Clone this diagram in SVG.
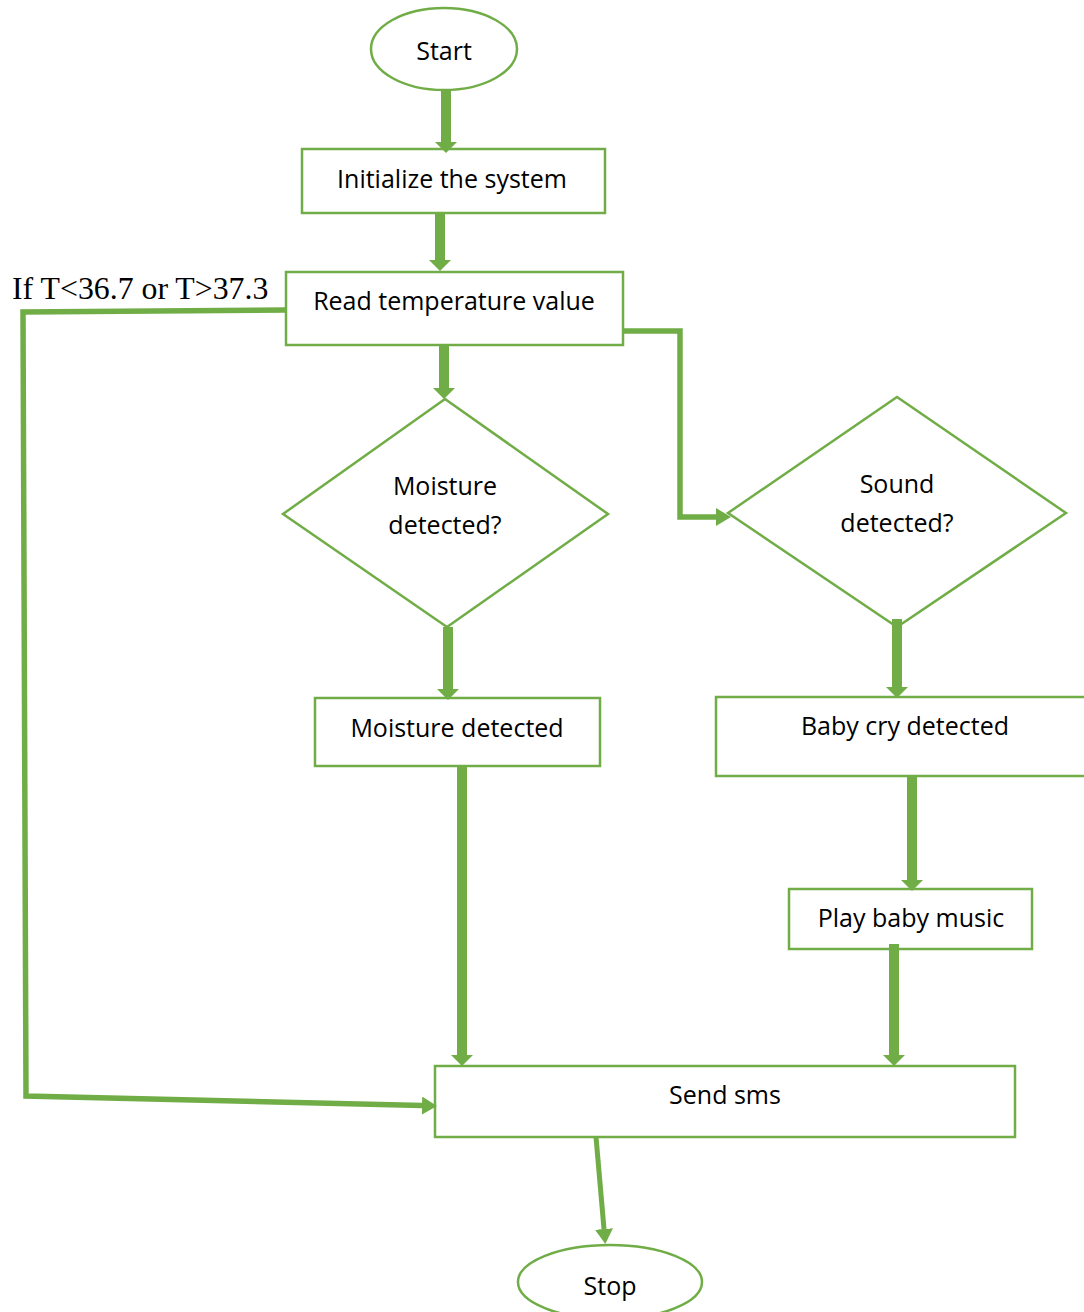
<svg xmlns="http://www.w3.org/2000/svg" width="1084" height="1312" viewBox="0 0 1084 1312">
<style>
.n{fill:#fff;stroke:#70AD47;stroke-width:2.5}
.t{font-family:"Open Sans","Noto Sans",sans-serif;font-size:25px;fill:#000;text-anchor:middle}
.c{fill:none;stroke:#70AD47;stroke-linejoin:miter}
.thick{stroke-width:10}
.thin{stroke-width:5.5}
</style>
<defs>
<marker id="big" markerUnits="userSpaceOnUse" viewBox="0 0 11 22" markerWidth="11" markerHeight="22" refX="0" refY="11" orient="auto">
<path d="M0,0 L11,11 L0,22 Z" fill="#70AD47"/>
</marker>
<marker id="small" markerUnits="userSpaceOnUse" viewBox="0 0 15 18" markerWidth="15" markerHeight="18" refX="0" refY="9" orient="auto">
<path d="M0,0 L15,9 L0,18 Z" fill="#70AD47"/>
</marker>
</defs>
<rect width="1084" height="1312" fill="#fff"/>
<g id="start"><ellipse class="n" cx="444" cy="49" rx="73" ry="41"/><text class="t" x="444" y="60">Start</text></g>
<g id="init"><rect class="n" x="302" y="149" width="303" height="64"/><text class="t" x="452" y="188">Initialize the system</text></g>
<g id="read"><rect class="n" x="286" y="272" width="337" height="73"/><text class="t" x="454" y="310">Read temperature value</text></g>
<g id="cond"><text x="12" y="299" font-family="'Liberation Serif','Times New Roman',serif" font-size="31.8" fill="#000">If T&lt;36.7 or T&gt;37.3</text></g>
<g id="moist-q"><polygon class="n" points="445,399 608,514 447,627 283,514"/><text class="t" x="445" y="495">Moisture</text><text class="t" x="445" y="534">detected?</text></g>
<g id="sound-q"><polygon class="n" points="897,397 1066,513 897,627 728,513"/><text class="t" x="897" y="493">Sound</text><text class="t" x="897" y="532">detected?</text></g>
<g id="moist"><rect class="n" x="315" y="698" width="285" height="68"/><text class="t" x="457" y="737">Moisture detected</text></g>
<g id="baby"><rect class="n" x="716" y="697" width="372" height="79"/><text class="t" x="905" y="735">Baby cry detected</text></g>
<g id="play"><rect class="n" x="789" y="889" width="243" height="60"/><text class="t" x="911" y="927">Play baby music</text></g>
<g id="send"><rect class="n" x="435" y="1066" width="580" height="71"/><text class="t" x="725" y="1104">Send sms</text></g>
<g id="stop"><ellipse class="n" cx="610" cy="1282" rx="92" ry="37"/><text class="t" x="610" y="1295">Stop</text></g>
<g id="connectors">
<line class="c thick" x1="446" y1="90" x2="446" y2="142" marker-end="url(#big)"/>
<line class="c thick" x1="440" y1="213" x2="440" y2="260" marker-end="url(#big)"/>
<line class="c thick" x1="444" y1="345" x2="444" y2="388" marker-end="url(#big)"/>
<line class="c thick" x1="448" y1="627" x2="448" y2="689" marker-end="url(#big)"/>
<line class="c thick" x1="462" y1="766" x2="462" y2="1055" marker-end="url(#big)"/>
<line class="c thick" x1="897" y1="619" x2="897" y2="687" marker-end="url(#big)"/>
<line class="c thick" x1="912" y1="776" x2="912" y2="880" marker-end="url(#big)"/>
<line class="c thick" x1="894" y1="944" x2="894" y2="1055" marker-end="url(#big)"/>
<polyline class="c thin" points="623,331 680,331 680,517 716,517" marker-end="url(#small)"/>
<polyline class="c thin" points="286,310 23,312 26,1096 422,1105.6" marker-end="url(#small)"/>
<line class="c" stroke-width="5" x1="596" y1="1137" x2="604" y2="1229" marker-end="url(#small)"/>
</g>
</svg>
